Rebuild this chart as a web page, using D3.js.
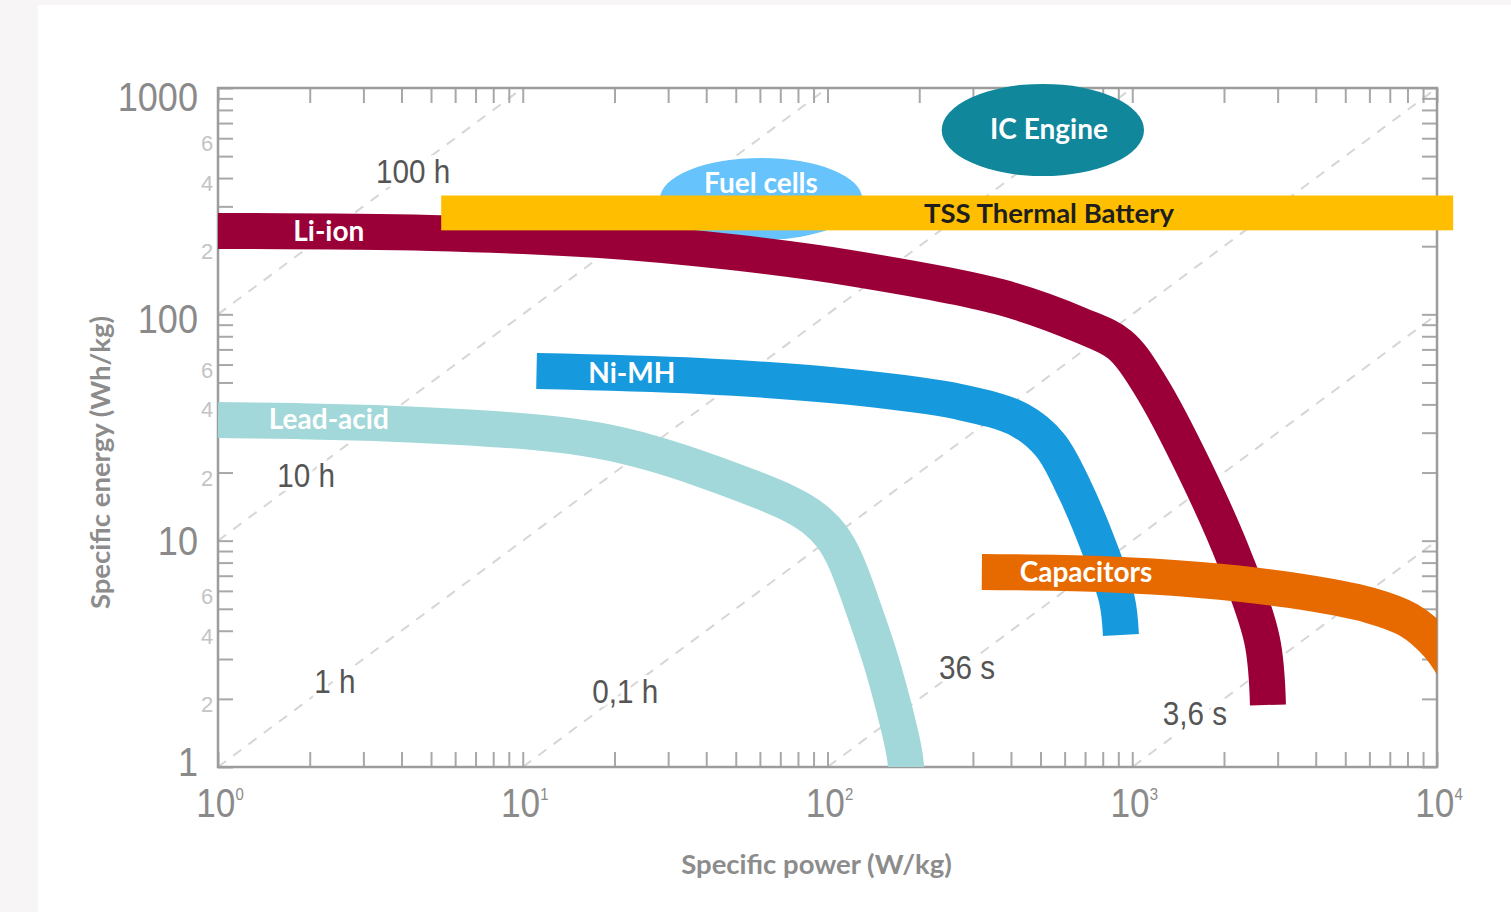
<!DOCTYPE html>
<html>
<head>
<meta charset="utf-8">
<script src="https://cdn.jsdelivr.net/npm/d3@7/dist/d3.min.js"></script>
<style>
  html, body { margin: 0; padding: 0; background: #f7f5f5; }
  svg { display: block; }
</style>
</head>
<body>
<svg id="chart" width="1511" height="912"></svg>
<script>
// ---------------- DATA ----------------
// Axis tick labels
const xMajorTicks = [1, 10, 100, 1000, 10000];
const xMajorExp = ["0", "1", "2", "3", "4"];
const yMajorTicks = [1, 10, 100, 1000];
const yMajorLabels = ["1", "10", "100", "1000"];
const yMinorLabelTicks = [2, 4, 6, 20, 40, 60, 200, 400, 600];
const yMinorLabels = ["2", "4", "6", "2", "4", "6", "2", "4", "6"];

// Constant discharge-time lines (hours): E = t * P
const timeLinesHours = [100, 10, 1, 0.1, 0.01, 0.001];
const timeLabels = ["100 h", "10 h", "1 h", "0,1 h", "36 s", "3,6 s"];
// label anchor [power, energy]
const timeLabelPos = [[4.37, 425], [1.945, 19.3], [2.42, 2.37], [21.7, 2.14], [287, 2.74], [1607, 1.716]];

// Technology bands: [specific power W/kg, specific energy Wh/kg]
const leadAcid = [[1, 34.1], [1.86, 33.8], [3.4, 33.1], [6.22, 31.9], [11.4, 30.2], [17.9, 27.9],
  [26.2, 24.6], [38.2, 20.9], [55.7, 17.3], [75.3, 14.7], [91.0, 12.6], [104, 10.5],
  [115, 8.21], [125, 6.05], [136, 4.37], [148, 3.13], [159, 2.23], [170, 1.58], [180, 1.13], [182, 0.92]];
const niMH = [[11.1, 56.2], [38.2, 53.4], [118.5, 47.8], [272, 41.0], [428, 34.1], [537, 26.5],
  [649, 16.7], [784, 9.1], [891, 5.47], [918, 3.83]];
const liIon = [[1, 233.5], [4.96, 228.7], [17.9, 213], [47.9, 188.6], [118.5, 160.2], [368, 119.3],
  [674, 89.7], [912, 73.2], [1144, 48.7], [1607, 20.5], [2174, 8.2], [2666, 3.64], [2788, 1.88]];
const capacitors = [[321, 7.27], [784, 7.12], [1668, 6.70], [3293, 6.05], [6026, 5.18],
  [8100, 4.45], [10000, 3.5], [11460, 2.7]];

// TSS thermal battery: power range, energy range
const tssPower = [5.4, 11300];
const tssEnergy = [235, 335];
// Ellipse regions: power range, energy range
const fuelCellPower = [28.2, 130];
const fuelCellEnergy = [213, 491];
const icEnginePower = [237, 1093];
const icEnergy = [408, 1042];

// Region labels: [name, power, energy]
const regionLabels = [
  ["Li-ion", 2.31, 233.5],
  ["Ni-MH", 22.8, 55.1],
  ["Lead-acid", 2.31, 34.5],
  ["Capacitors", 705, 7.27],
  ["Fuel cells", 60.5, 380],
  ["IC Engine", 533, 659]
];
const tssLabel = ["TSS Thermal Battery", 533, 280];

// ---------------- CHART ----------------
const W = 1511, H = 912;
const margin = { left: 218, right: 74, top: 88, bottom: 145 };
const svg = d3.select("#chart");

// page background panel
svg.append("rect").attr("x", 38).attr("y", 5).attr("width", W - 38).attr("height", H - 5).attr("fill", "#ffffff");

const x = d3.scaleLog().domain([1, 10000]).range([margin.left, W - margin.right]);
const y = d3.scaleLog().domain([1, 1000]).range([H - margin.bottom, margin.top]);
const [x0, x1] = x.range();
const [y0, y1] = y.range();

const defs = svg.append("defs");
defs.append("clipPath").attr("id", "plotClip").append("rect")
  .attr("x", x0).attr("y", y1).attr("width", x1 - x0).attr("height", y0 - y1);

const axisFont = "'Liberation Sans', Arimo, sans-serif";
const labelFont = "Lato, 'Open Sans', sans-serif";

// ----- dashed constant time lines -----
const gLines = svg.append("g").attr("clip-path", "url(#plotClip)");
timeLinesHours.forEach(t => {
  gLines.append("line")
    .attr("x1", x(1)).attr("y1", y(t * 1))
    .attr("x2", x(10000)).attr("y2", y(t * 10000))
    .attr("stroke", "#d6d6d6").attr("stroke-width", 2)
    .attr("stroke-dasharray", "10,9");
});

// ----- axes -----
const minorTicksX = [];
for (let d = 1; d < 10000; d *= 10) for (let k = 1; k < 10; k++) minorTicksX.push(d * k);
minorTicksX.push(10000);
const minorTicksY = [];
for (let d = 1; d < 1000; d *= 10) for (let k = 1; k < 10; k++) minorTicksY.push(d * k);
minorTicksY.push(1000);

function styleAxis(g) {
  g.select(".domain").remove();
  g.selectAll(".tick line").attr("stroke", "#a8a8a8").attr("stroke-width", 2);
  g.selectAll(".tick text").remove();
}
svg.append("g").attr("transform", `translate(0,${y0})`)
  .call(d3.axisBottom(x).tickValues(minorTicksX).tickSize(-15).tickFormat("")).call(styleAxis);
svg.append("g").attr("transform", `translate(0,${y1})`)
  .call(d3.axisTop(x).tickValues(minorTicksX).tickSize(-15).tickFormat("")).call(styleAxis);
svg.append("g").attr("transform", `translate(${x0},0)`)
  .call(d3.axisLeft(y).tickValues(minorTicksY).tickSize(-15).tickFormat("")).call(styleAxis);
svg.append("g").attr("transform", `translate(${x1},0)`)
  .call(d3.axisRight(y).tickValues(minorTicksY).tickSize(-15).tickFormat("")).call(styleAxis);

svg.append("rect").attr("x", x0).attr("y", y1).attr("width", x1 - x0).attr("height", y0 - y1)
  .attr("fill", "none").attr("stroke", "#9c9c9c").attr("stroke-width", 2.5);

// x tick labels with superscripts
xMajorTicks.forEach((v, i) => {
  const t = svg.append("text")
    .attr("transform", `translate(${x(v) + 2},${y0 + 50}) scale(0.88,1)`)
    .attr("text-anchor", "middle").attr("font-family", axisFont)
    .attr("font-size", 40).attr("fill", "#8a8a8a");
  t.append("tspan").text("10");
  t.append("tspan").attr("font-size", 17).attr("dy", -17).text(xMajorExp[i]);
});
// y tick labels (slight shifts follow the reference's hand-set label spacing)
const yLabelShift = [-5, 0, 5, 9];
yMajorTicks.forEach((v, i) => {
  svg.append("text")
    .attr("transform", `translate(${x0 - 20},${y(v) + 14 + yLabelShift[i]}) scale(0.88,1)`)
    .attr("text-anchor", "end").attr("font-family", axisFont)
    .attr("font-size", 41).attr("fill", "#8a8a8a").text(yMajorLabels[i]);
});
yMinorLabelTicks.forEach((v, i) => {
  svg.append("text").attr("x", x0 - 11).attr("y", y(v) + 13)
    .attr("text-anchor", "middle").attr("font-family", axisFont)
    .attr("font-size", 22).attr("fill", "#c4c4c4").text(yMinorLabels[i]);
});

// axis titles
svg.append("text").attr("x", (x0 + x1) / 2 - 11).attr("y", 874)
  .attr("text-anchor", "middle").attr("font-family", labelFont).attr("font-weight", 700)
  .attr("font-size", 27.5).attr("fill", "#8c8c8c").text("Specific power (W/kg)");
svg.append("text").attr("transform", `translate(110,${(y0 + y1) / 2 + 35}) rotate(-90)`)
  .attr("text-anchor", "middle").attr("font-family", labelFont).attr("font-weight", 700)
  .attr("font-size", 27.5).attr("fill", "#8c8c8c").text("Specific energy (Wh/kg)");

// time labels
timeLabels.forEach((label, i) => {
  const p = timeLabelPos[i];
  svg.append("text")
    .attr("transform", `translate(${x(p[0])},${y(p[1]) + 11}) scale(0.9,1)`)
    .attr("text-anchor", "middle").attr("font-family", axisFont)
    .attr("font-size", 33).attr("fill", "#555")
    .attr("stroke", "#fff").attr("stroke-width", 8).attr("paint-order", "stroke")
    .text(label);
});

// ----- bands -----
const lineSmooth = d3.line().x(d => x(d[0])).y(d => y(d[1])).curve(d3.curveCatmullRom.alpha(0.5));
const lineBasis = d3.line().x(d => x(d[0])).y(d => y(d[1])).curve(d3.curveBasis);
const gBands = svg.append("g").attr("clip-path", "url(#plotClip)");
function band(g, data, color, width, gen) {
  g.append("path").attr("d", (gen || lineSmooth)(data)).attr("fill", "none")
    .attr("stroke", color).attr("stroke-width", width)
    .attr("stroke-linecap", "butt").attr("stroke-linejoin", "round");
}
band(gBands, leadAcid, "#a2d8d9", 36, lineBasis);
band(gBands, niMH, "#1799dd", 36);

// fuel cells ellipse
svg.append("ellipse")
  .attr("cx", (x(fuelCellPower[0]) + x(fuelCellPower[1])) / 2)
  .attr("cy", (y(fuelCellEnergy[0]) + y(fuelCellEnergy[1])) / 2)
  .attr("rx", (x(fuelCellPower[1]) - x(fuelCellPower[0])) / 2)
  .attr("ry", (y(fuelCellEnergy[0]) - y(fuelCellEnergy[1])) / 2)
  .attr("fill", "#66c3fb");

const gBands2 = svg.append("g").attr("clip-path", "url(#plotClip)");
band(gBands2, liIon, "#9a0037", 36);
band(gBands2, capacitors, "#e76a00", 36);

// TSS band
svg.append("rect")
  .attr("x", x(tssPower[0])).attr("y", y(tssEnergy[1]))
  .attr("width", x(tssPower[1]) - x(tssPower[0]))
  .attr("height", y(tssEnergy[0]) - y(tssEnergy[1]))
  .attr("fill", "#ffbf00");

// IC engine ellipse
svg.append("ellipse")
  .attr("cx", (x(icEnginePower[0]) + x(icEnginePower[1])) / 2)
  .attr("cy", (y(icEnergy[0]) + y(icEnergy[1])) / 2)
  .attr("rx", (x(icEnginePower[1]) - x(icEnginePower[0])) / 2)
  .attr("ry", (y(icEnergy[0]) - y(icEnergy[1])) / 2)
  .attr("fill", "#11879b");

// region labels
regionLabels.forEach(d => {
  svg.append("text").attr("x", x(d[1])).attr("y", y(d[2]))
    .attr("dy", "0.35em").attr("text-anchor", "middle")
    .attr("font-family", labelFont).attr("font-weight", 700)
    .attr("font-size", 28).attr("fill", "#ffffff").text(d[0]);
});
svg.append("text").attr("x", x(tssLabel[1])).attr("y", y(tssLabel[2]))
  .attr("dy", "0.35em").attr("text-anchor", "middle")
  .attr("font-family", labelFont).attr("font-weight", 700)
  .attr("font-size", 27.5).attr("fill", "#1e1e1e").text(tssLabel[0]);
</script>
</body>
</html>
